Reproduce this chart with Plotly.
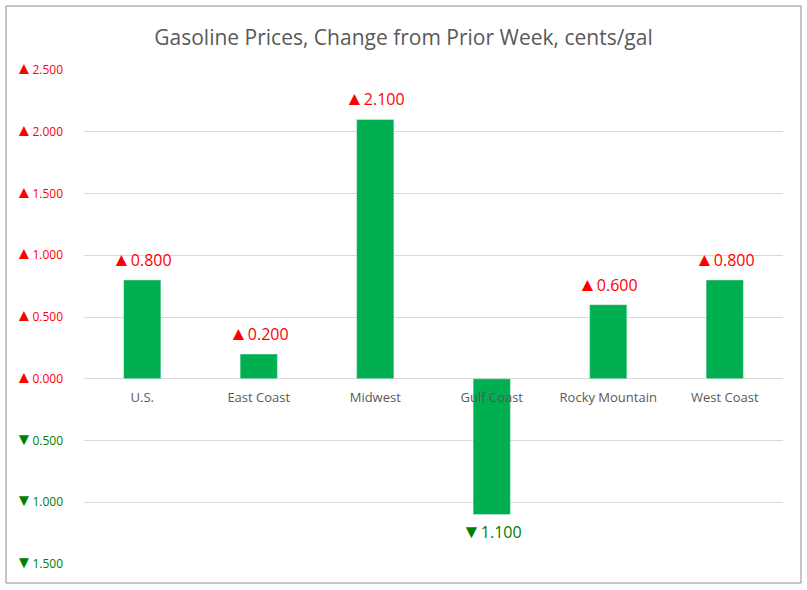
import plotly.graph_objects as go

categories = ["U.S.", "East Coast", "Midwest", "Gulf Coast", "Rocky Mountain", "West Coast"]
values = [0.8, 0.2, 2.1, -1.1, 0.6, 0.8]
tick_values = [2.5, 2.0, 1.5, 1.0, 0.5, 0.0, -0.5, -1.0, -1.5]

UP = "#FF0000"
DOWN = "#008000"
FONT = "Open Sans"

def arrow(v):
    return "▲" if v >= 0 else "▼"

def tick_label(v):
    c = UP if v >= 0 else DOWN
    return (f'<span style="color:{c}"><span style="font-size:17px">{arrow(v)}</span>'
            f'{abs(v):.3f}</span>')

def data_label(v):
    return f'<span style="font-size:19px">{arrow(v)}</span>{abs(v):.3f}'

y_range = [-1.5, 2.5]
zero_pos = (0 - y_range[0]) / (y_range[1] - y_range[0])

fig = go.Figure(go.Bar(
    x=categories, y=values,
    marker_color="#00B050",
    hoverinfo="skip",
))

annotations = []
for c, v in zip(categories, values):
    annotations.append(dict(
        x=c, y=v, xref="x", yref="y", text=data_label(v), showarrow=False,
        yanchor="bottom" if v >= 0 else "top",
        yshift=6 if v >= 0 else -1,
        font=dict(size=16, color=UP if v >= 0 else DOWN, family=FONT),
    ))

fig.update_layout(
    width=807, height=590,
    margin=dict(l=84, r=24, t=70, b=26),
    paper_bgcolor="white", plot_bgcolor="white",
    bargap=0.68,
    showlegend=False,
    title=dict(text="Gasoline Prices, Change from Prior Week, cents/gal",
               x=0.5, xref="container", y=1 - 38 / 590, yref="container",
               xanchor="center", yanchor="middle",
               font=dict(size=21, color="#595959", family=FONT)),
    font=dict(family=FONT),
    xaxis=dict(anchor="free", position=zero_pos, showline=False, ticks="",
               tickfont=dict(size=13, color="#595959"), showgrid=False,
               ticklabelstandoff=9),
    yaxis=dict(range=y_range, tickvals=tick_values,
               ticktext=[tick_label(v) for v in tick_values],
               tickfont=dict(size=12), showgrid=True, gridcolor="#D9D9D9",
               zeroline=True, zerolinecolor="#D9D9D9", zerolinewidth=1,
               ticks="", ticklabelstandoff=20, showline=False),
    annotations=annotations,
    shapes=[dict(type="rect", xref="paper", yref="paper",
                 x0=(6 - 84) / 699, x1=(801 - 84) / 699,
                 y0=(564 - 583) / 494, y1=(564 - 6) / 494,
                 line=dict(color="#8C8C8C", width=1), layer="below")],
)

fig.write_html("out.html", config={"displayModeBar": False},
               post_script="document.body.style.margin='0px';")
